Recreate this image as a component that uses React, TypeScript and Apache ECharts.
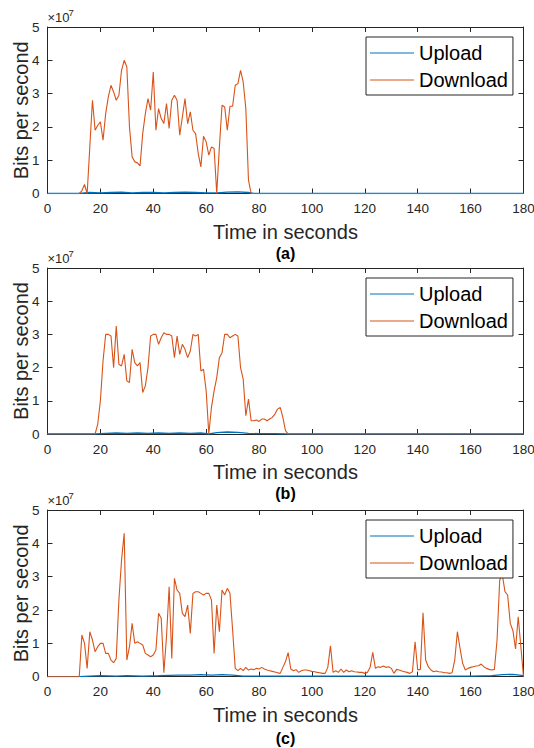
import React, { useEffect, useRef } from "react";
import * as echarts from "echarts";

// Values in units of 10^7 bits per second, one sample per second
const xTicks = [0, 20, 40, 60, 80, 100, 120, 140, 160, 180];
const yTicks = [0, 1, 2, 3, 4, 5];
const panelLabels = ["(a)", "(b)", "(c)"];
const seriesNames = ["Upload", "Download"];

// Panel (a): download starts at t = 12
const startA = 12;
const downloadA = [
  0, 0.08, 0.27, 0, 1.4, 2.8, 1.9, 2.05, 2.15, 1.6, 2.4, 2.9, 3.25, 3.05, 2.8, 2.95,
  3.7, 4.0, 3.8, 2.0, 1.1, 0.95, 0.92, 0.83, 1.8, 2.4, 2.85, 2.5, 3.65, 1.9, 2.55,
  2.25, 2.1, 2.7, 1.95, 2.8, 2.95, 2.8, 1.75, 2.3, 2.85, 2.1, 2.45, 1.9, 1.8, 1.2,
  0.8, 1.72, 1.55, 1.15, 1.4, 1.35, 0, 1.4, 2.65, 2.6, 1.9, 2.62, 2.62, 3.25, 3.3,
  3.7, 3.35, 2.55, 0.4, 0,
];
const uploadTimesA = [0, 12, 16, 20, 24, 28, 32, 36, 40, 44, 48, 52, 56, 60, 64, 68, 72, 76, 78, 180];
const uploadA = [0, 0, 0.03, 0.02, 0.03, 0.04, 0.02, 0.03, 0.03, 0.02, 0.03, 0.04, 0.03, 0.02, 0.02, 0.04, 0.05, 0.03, 0, 0];

// Panel (b): download starts at t = 18
const startB = 18;
const downloadB = [
  0, 0.3, 1.0, 2.2, 3.0, 3.0, 2.95, 2.0, 3.25, 2.1, 2.05, 2.4, 1.6, 1.55, 2.55, 2.15,
  2.05, 2.15, 1.25, 1.45, 2.0, 2.95, 3.0, 3.0, 2.7, 2.9, 3.05, 3.0, 3.0, 2.95, 2.3,
  2.95, 2.4, 2.7, 2.55, 2.3, 2.5, 3.0, 2.95, 3.0, 1.9, 1.95, 1.3, 0, 0.8, 1.3, 1.7,
  2.3, 2.45, 3.0, 3.0, 2.9, 2.95, 3.0, 2.95, 2.0, 1.65, 0.55, 1.05, 0.4, 0.4, 0.42,
  0.38, 0.45, 0.45, 0.4, 0.45, 0.5, 0.6, 0.75, 0.8, 0.5, 0.1, 0,
];
const uploadTimesB = [0, 18, 22, 26, 30, 34, 38, 42, 46, 50, 54, 58, 61, 64, 68, 72, 76, 80, 86, 91, 180];
const uploadB = [0, 0, 0.02, 0.03, 0.02, 0.03, 0.02, 0.03, 0.02, 0.03, 0.02, 0.03, 0, 0.04, 0.06, 0.05, 0.02, 0.01, 0.01, 0, 0];

// Panel (c): download starts at t = 12
const startC = 12;
const downloadC = [
  0, 1.25, 1.0, 0.25, 1.35, 1.1, 0.75, 0.9, 1.0, 1.0, 0.7, 0.7, 0.5, 0.42, 0.55, 2.3,
  3.5, 4.3, 0.5, 0.9, 1.6, 1.0, 1.05, 1.0, 0.95, 0.7, 0.65, 0.6, 0.65, 0.8, 1.9, 1.75,
  0.12, 1.2, 2.7, 0.55, 2.95, 2.6, 2.5, 1.9, 1.8, 2.15, 1.3, 2.5, 2.55, 2.55, 2.5,
  2.45, 2.5, 2.5, 2.3, 0.7, 2.15, 1.35, 2.6, 2.45, 2.65, 2.5, 1.4, 0.25, 0.18, 0.25,
  0.18, 0.28, 0.2, 0.23, 0.21, 0.25, 0.23, 0.28, 0.23, 0.2, 0.18, 0.16, 0.14, 0.12,
  0.1, 0.28, 0.45, 0.72, 0.23, 0.18, 0.21, 0.13, 0.18, 0.2, 0.2, 0.18, 0.16, 0.15,
  0.13, 0.12, 0.1, 0.1, 0.28, 0.93, 0.13, 0.18, 0.13, 0.23, 0.13, 0.2, 0.15, 0.18,
  0.15, 0.14, 0.13, 0.13, 0.1, 0.13, 0.28, 0.73, 0.25, 0.3, 0.28, 0.32, 0.28, 0.3,
  0.25, 0.1, 0.22, 0.2, 0.17, 0.15, 0.13, 0.1, 0.15, 1.05, 0.2, 0.22, 1.92, 0.5, 0.3,
  0.2, 0.15, 0.17, 0.15, 0.14, 0.12, 0.12, 0.1, 0.12, 0.5, 1.35, 0.85, 0.4, 0.2, 0.25,
  0.28, 0.3, 0.32, 0.33, 0.38, 0.3, 0.25, 0.22, 0.2, 0.22, 1.1, 2.9, 3.05, 2.55, 2.45,
  1.6, 1.38, 0.83, 1.8, 0.9, 0,
];
const uploadTimesC = [0, 12, 16, 20, 26, 30, 36, 42, 46, 50, 54, 58, 62, 66, 70, 74, 80, 90, 100, 110, 120, 130, 140, 150, 160, 168, 172, 176, 180];
const uploadC = [0, 0, 0.02, 0.03, 0.02, 0.03, 0.02, 0.03, 0.04, 0.05, 0.05, 0.06, 0.05, 0.06, 0.05, 0.02, 0.02, 0.02, 0.02, 0.02, 0.02, 0.02, 0.02, 0.02, 0.02, 0.03, 0.06, 0.07, 0.03];

const BLUE = "#0072BD";
const ORANGE = "#D95319";
const AX = "#262626";
const FONT = "Liberation Sans, Arial, Helvetica, sans-serif";

const grids = [
  { top: 27, height: 166.5 },
  { top: 268, height: 166 },
  { top: 510, height: 166.7 },
];
const legendTops = [37, 278, 520];
const panelLabelY = [253, 493, 738];
const GL = 47.5;
const GW = 476;

export default function App() {
  const ref = useRef<HTMLDivElement>(null);
  useEffect(() => {
    if (!ref.current) return;
    const chart = echarts.init(ref.current, undefined, { renderer: "svg" });
    const panels = [
      { start: startA, down: downloadA, upT: uploadTimesA, up: uploadA },
      { start: startB, down: downloadB, upT: uploadTimesB, up: uploadB },
      { start: startC, down: downloadC, upT: uploadTimesC, up: uploadC },
    ];
    const xAxes: any[] = [];
    const yAxes: any[] = [];
    const series: any[] = [];
    const legends: any[] = [];
    const graphics: any[] = [];
    panels.forEach((p, i) => {
      const axisLine = { show: true, onZero: false, lineStyle: { color: AX, width: 1 } };
      const tick = { show: true, inside: true, length: 5, lineStyle: { color: AX } };
      xAxes.push({
        gridIndex: i, type: "value", min: xTicks[0], max: xTicks[xTicks.length - 1], interval: 20,
        position: "bottom", axisLine, axisTick: tick, splitLine: { show: false },
        axisLabel: { fontSize: 13.5, color: AX, margin: 8, fontFamily: FONT },
        name: "Time in seconds", nameLocation: "middle", nameGap: 28, nameMoveOverlap: false,
        nameTextStyle: { fontSize: 20, color: AX, fontFamily: FONT },
      });
      xAxes.push({
        gridIndex: i, type: "value", min: 0, max: 180, interval: 20, position: "top",
        axisLine, axisTick: tick, axisLabel: { show: false }, splitLine: { show: false },
      });
      yAxes.push({
        gridIndex: i, type: "value", min: yTicks[0], max: yTicks[yTicks.length - 1], interval: 1,
        position: "left", axisLine, axisTick: tick, splitLine: { show: false },
        axisLabel: { fontSize: 13.5, color: AX, margin: 8, fontFamily: FONT },
        name: "Bits per second", nameLocation: "middle", nameGap: 17, nameMoveOverlap: false,
        nameTextStyle: { fontSize: 20, color: AX, fontFamily: FONT },
      });
      yAxes.push({
        gridIndex: i, type: "value", min: 0, max: 5, interval: 1, position: "right",
        axisLine, axisTick: tick, axisLabel: { show: false }, splitLine: { show: false },
      });
      series.push({
        name: seriesNames[0], type: "line", xAxisIndex: i * 2, yAxisIndex: i * 2,
        symbol: "none", data: p.upT.map((t, k) => [t, p.up[k]]),
        lineStyle: { color: BLUE, width: 1.3 }, itemStyle: { color: BLUE },
      });
      const downData: number[][] = [[0, 0]];
      p.down.forEach((v, k) => downData.push([p.start + k, v]));
      downData.push([180, 0]);
      series.push({
        name: seriesNames[1], type: "line", xAxisIndex: i * 2, yAxisIndex: i * 2,
        symbol: "none", data: downData,
        lineStyle: { color: ORANGE, width: 1.1 }, itemStyle: { color: ORANGE },
      });
      legends.push({
        data: seriesNames, orient: "vertical", left: 366, top: legendTops[i],
        backgroundColor: "#fff", borderColor: AX, borderWidth: 1,
        padding: [6, 5, 5, 4], itemWidth: 44, itemHeight: 1.2, itemGap: 7,
        icon: "rect", selectedMode: false,
        textStyle: { fontSize: 20, color: "#000", fontFamily: FONT, lineHeight: 20 },
      });
      graphics.push({
        type: "text", left: GL, top: grids[i].top - 16,
        style: { text: "×10", fontSize: 13, fill: AX, fontFamily: FONT },
      });
      graphics.push({
        type: "text", left: GL + 21, top: grids[i].top - 20,
        style: { text: "7", fontSize: 9.5, fill: AX, fontFamily: FONT },
      });
      graphics.push({
        type: "text", x: GL + GW / 2, y: panelLabelY[i],
        style: { text: panelLabels[i], fontSize: 16, fontWeight: "bold", fill: "#000", fontFamily: FONT, align: "center", verticalAlign: "middle" },
      });
    });
    chart.setOption({
      animation: false,
      backgroundColor: "#fff",
      grid: grids.map((g) => ({ left: GL, width: GW, top: g.top, height: g.height, outerBoundsMode: "none", containLabel: false })),
      xAxis: xAxes,
      yAxis: yAxes,
      series,
      legend: legends,
      graphic: graphics,
    });
    return () => chart.dispose();
  }, []);
  return <div ref={ref} style={{ position: "absolute", left: 0, top: 0, width: 534, height: 748 }} />;
}
